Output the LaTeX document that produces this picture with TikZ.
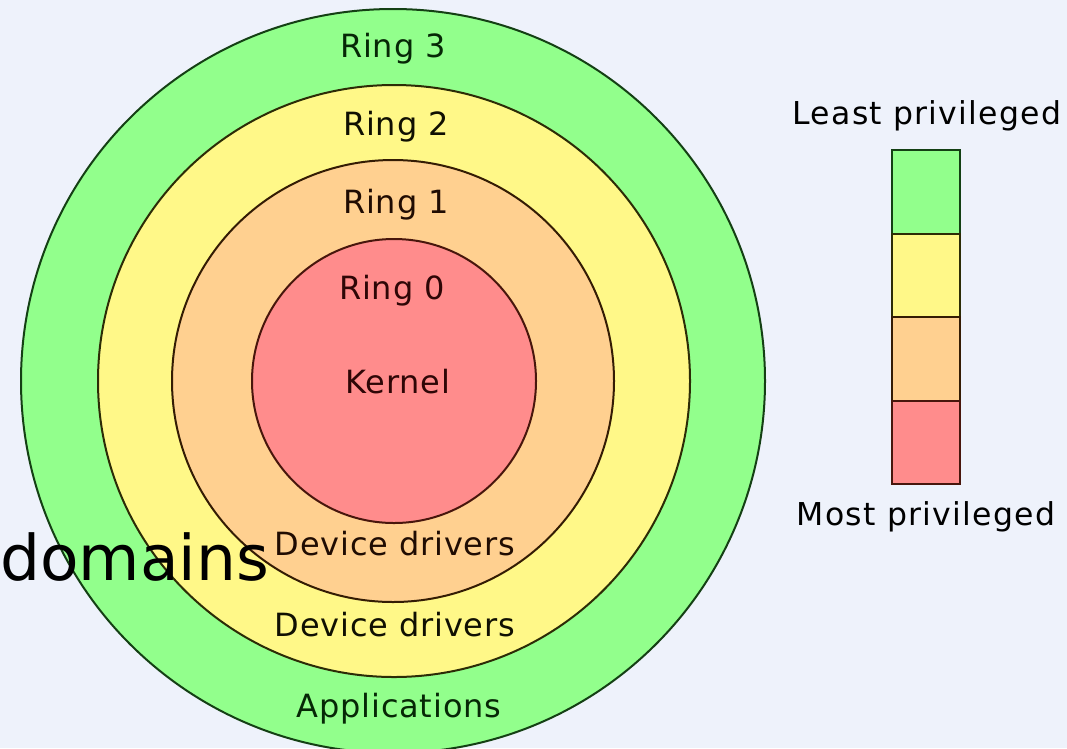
\documentclass[tikz,border=0pt]{standalone}
\usepackage{fontspec}
\setmainfont{DejaVu Sans}
\newfontfamily\spacedfont[LetterSpace=2.5]{DejaVu Sans}
\newfontfamily\widefont[LetterSpace=4]{DejaVu Sans}
\definecolor{bgcol}{RGB}{238,242,251}
\definecolor{ringthree}{RGB}{146,255,140}
\definecolor{ringtwo}{RGB}{255,248,136}
\definecolor{ringone}{RGB}{255,208,144}
\definecolor{ringzero}{RGB}{255,140,140}
\definecolor{edgethree}{RGB}{20,64,20}
\definecolor{edgetwo}{RGB}{44,44,6}
\definecolor{edgeone}{RGB}{52,28,4}
\definecolor{edgezero}{RGB}{72,22,12}
\definecolor{txtthree}{RGB}{6,40,6}
\definecolor{txttwo}{RGB}{16,16,2}
\definecolor{txtone}{RGB}{32,12,2}
\definecolor{txtzero}{RGB}{46,6,6}
\begin{document}
\begin{tikzpicture}[x=1pt,y=-1pt,
  ring/.style={circle,draw,line width=2pt,inner sep=0pt,minimum size=#1},
  lbl/.style={anchor=base,inner sep=0pt,font=\spacedfont\fontsize{32}{38}\selectfont},
  legtxt/.style={anchor=base,inner sep=0pt,font=\widefont\fontsize{31.5}{37}\selectfont,text=black},
  swatch/.style={rectangle,draw,line width=2pt,inner sep=0pt,minimum width=68pt,minimum height=83.5pt}]
  % page and background
  \fill[bgcol] (0,0) rectangle (1067,748);
  \useasboundingbox (0,0) rectangle (1067,748);
  % concentric protection rings
  \node (r3) [ring=744pt,fill=ringthree,draw=edgethree] at (393,381) {};
  \node (r2) [ring=592pt,fill=ringtwo,draw=edgetwo] at (394,381) {};
  \node (r1) [ring=442pt,fill=ringone,draw=edgeone] at (393,381) {};
  \node (r0) [ring=284pt,fill=ringzero,draw=edgezero] at (394,381) {};
  % ring labels
  \node (t3) [lbl,text=txtthree] at (393,57) {Ring 3};
  \node (t2) [lbl,text=txttwo] at (396,135) {Ring 2};
  \node (t1) [lbl,text=txtone] at (396,213) {Ring 1};
  \node (t0) [lbl,text=txtzero] at (392,299) {Ring 0};
  \node (kern) [lbl,text=txtzero] at (398,393) {Kernel};
  \node (dd1) [lbl,text=txtone] at (395,555) {Device drivers};
  \node (dd2) [lbl,text=txttwo] at (395,636) {Device drivers};
  \node (apps) [lbl,text=txtthree] at (399,717) {Applications};
  % privilege legend
  \node (sw3) [swatch,fill=ringthree,draw=edgethree] at (926,192) {};
  \node (sw2) [swatch,fill=ringtwo,draw=edgetwo] at (926,275.5) {};
  \node (sw1) [swatch,fill=ringone,draw=edgeone] at (926,359) {};
  \node (sw0) [swatch,fill=ringzero,draw=edgezero] at (926,442.5) {};
  \node (least) [legtxt] at (927,124) {Least privileged};
  \node (most) [legtxt] at (926,525) {Most privileged};
  % overlaid caption
  \node (dom) [anchor=base west,inner sep=0pt,font=\fontsize{63}{70}\selectfont,text=black] at (0,580) {domains};
\end{tikzpicture}
\end{document}
